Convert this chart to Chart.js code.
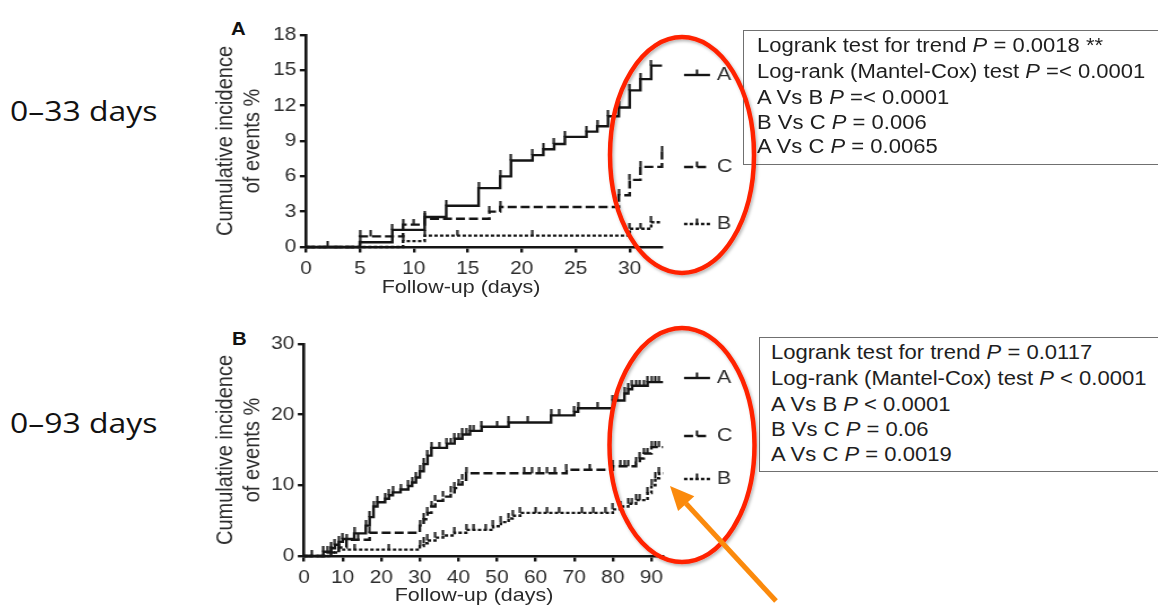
<!DOCTYPE html>
<html lang="en">
<head>
<meta charset="utf-8">
<title>Cumulative incidence of events</title>
<script src="https://cdn.jsdelivr.net/npm/chart.js@4.4.1/dist/chart.umd.min.js"></script>
<style>
  html, body { margin: 0; padding: 0; background: #fff; }
  body { position: relative; width: 1158px; height: 605px; overflow: hidden;
         font-family: "Liberation Sans", Arial, Helvetica, sans-serif; color: #222; }
  canvas.km { position: absolute; left: 196px; }
  .range { position: absolute; left: 10px; font-family: "Open Sans", "Noto Sans", sans-serif;
           font-size: 28px; line-height: 28px; color: #111; white-space: nowrap;
           transform: scaleX(1.14); transform-origin: 0 50%; }
  .tag { position: absolute; font-weight: bold; font-size: 18.5px; line-height: 19px; color: #111;
         transform: scaleX(1.1); transform-origin: 0 50%; }
  .xtitle { position: absolute; width: 300px; text-align: center; font-size: 19px; line-height: 22px;
            color: #2a2a2a; white-space: nowrap; transform: scaleX(1.13); transform-origin: 50% 50%; }
  .box { position: absolute; width: 440px; height: 135px; border: 1.3px solid #707070; box-sizing: border-box; }
  .stat { position: absolute; white-space: nowrap; font-size: 19.5px; line-height: 25px; color: #1e1e1e;
          transform: scaleX(1.13); transform-origin: 0 50%; }
  svg.marks { position: absolute; left: 0; top: 0; pointer-events: none; }
</style>
</head>
<body>

<div class="range" style="top:96px">0–33 days</div>
<div class="range" style="top:408px">0–93 days</div>

<div class="tag" style="left:231px; top:19px">A</div>
<div class="tag" style="left:232px; top:329px">B</div>

<canvas id="shortTerm" class="km" width="485" height="300" style="top:0; width:548px; height:300px"></canvas>
<canvas id="longTerm" class="km" width="485" height="295" style="top:310px; width:548px; height:295px"></canvas>

<div class="xtitle" style="left:311px; top:276px">Follow-up (days)</div>
<div class="xtitle" style="left:324px; top:584px">Follow-up (days)</div>

<div class="box" style="left:743px; top:30px"></div>
<div class="stat" style="left:757px; top:32.7px">Logrank test for trend <i>P</i> = 0.0018 **</div>
<div class="stat" style="left:757px; top:58.7px">Log-rank (Mantel-Cox) test <i>P</i> =&lt; 0.0001</div>
<div class="stat" style="left:757px; top:84.7px">A Vs B <i>P</i> =&lt; 0.0001</div>
<div class="stat" style="left:757px; top:109.7px">B Vs C <i>P</i> = 0.006</div>
<div class="stat" style="left:757px; top:133.7px">A Vs C <i>P</i> = 0.0065</div>

<div class="box" style="left:759px; top:337px"></div>
<div class="stat" style="left:771px; top:339.7px">Logrank test for trend <i>P</i> = 0.0117</div>
<div class="stat" style="left:771px; top:365.7px">Log-rank (Mantel-Cox) test <i>P</i> &lt; 0.0001</div>
<div class="stat" style="left:771px; top:391.7px">A Vs B <i>P</i> &lt; 0.0001</div>
<div class="stat" style="left:771px; top:416.7px">B Vs C <i>P</i> = 0.06</div>
<div class="stat" style="left:771px; top:441.7px">A Vs C <i>P</i> = 0.0019</div>

<svg class="marks" width="1158" height="605" viewBox="0 0 1158 605">
  <defs>
    <filter id="shade" x="-10%" y="-10%" width="130%" height="130%">
      <feDropShadow dx="1.5" dy="2" stdDeviation="1.4" flood-color="#000" flood-opacity="0.28"/>
    </filter>
  </defs>
  <ellipse cx="682" cy="155" rx="72" ry="118" fill="none" stroke="#ff2200" stroke-width="4.5" filter="url(#shade)"/>
  <ellipse cx="682" cy="445" rx="72.5" ry="117" fill="none" stroke="#ff2200" stroke-width="4.5" filter="url(#shade)"/>
  <line x1="776" y1="601" x2="686" y2="503.5" stroke="#fb8a0c" stroke-width="5"/>
  <polygon points="670,486 694.3,496.3 678.1,511.1" fill="#fb8a0c"/>
</svg>

<script>
const INK = '#151515';
const TEXT = '#2e2e2e';
const FONT = '"Liberation Sans", Arial, Helvetica, sans-serif';

// ---- Follow-up 0–33 days ----
const shortXTicks = [0, 5, 10, 15, 20, 25, 30];
const shortYTicks = [0, 3, 6, 9, 12, 15, 18];
const shortDaysA = [0, 5, 8, 11, 13, 16, 18, 19, 21, 22, 23, 24, 26, 27, 28, 29, 30, 31, 32, 33];
const shortPctA  = [0, 0.4, 1.45, 2.55, 3.5, 5.0, 6.0, 7.35, 7.8, 8.3, 8.75, 9.35, 9.8, 10.25, 11.1, 11.85, 13.3, 14.25, 15.4, 15.4];
const shortDaysB = [0, 9, 11, 30, 32, 33];
const shortPctB  = [0, 0.5, 0.97, 1.55, 2.1, 2.1];
const shortDaysC = [0, 5, 9, 11, 17, 18, 29, 30, 31, 33];
const shortPctC  = [0, 0.9, 1.9, 2.4, 3.0, 3.4, 4.4, 5.7, 6.8, 8.1];
const shortCensorA = [2];
const shortCensorB = [14, 21, 31];
const shortCensorC = [6, 10];

// ---- Follow-up 0–93 days ----
const longXTicks = [0, 10, 20, 30, 40, 50, 60, 70, 80, 90];
const longYTicks = [0, 10, 20, 30];
const longDaysA = [0, 5, 7, 8, 9, 10, 13, 16, 17, 18, 19, 21, 22, 23, 25, 27, 28, 29, 30, 31, 32, 33, 37, 39, 41, 43, 46, 53, 64, 70, 71, 80, 83, 84, 85, 89, 93];
const longPctA  = [0, 0.6, 1.1, 1.6, 2.0, 2.4, 3.2, 4.3, 5.5, 7.0, 7.6, 8.1, 8.6, 9.0, 9.4, 9.9, 10.4, 11.1, 12.0, 13.0, 14.2, 15.3, 15.9, 16.6, 17.2, 17.7, 18.3, 18.9, 19.9, 20.4, 20.9, 22.0, 23.0, 23.6, 24.1, 24.6, 24.6];
const longDaysB = [0, 7, 9, 30, 31, 32, 34, 36, 39, 42, 49, 51, 53, 54, 56, 80, 82, 84, 86, 89, 90, 91, 92, 93];
const longPctB  = [0, 0.5, 0.9, 1.4, 1.8, 2.2, 2.6, 2.9, 3.3, 3.7, 4.2, 4.8, 5.3, 5.7, 6.1, 6.6, 7.0, 7.4, 7.9, 8.9, 10.0, 11.0, 11.7, 11.7];
const longDaysC = [0, 6, 9, 11, 17, 30, 31, 32, 33, 34, 36, 38, 39, 40, 41, 42, 68, 80, 86, 87, 88, 90, 93];
const longPctC  = [0, 0.5, 1.2, 2.3, 3.3, 4.3, 5.2, 6.1, 7.0, 7.8, 8.4, 9.0, 9.6, 10.1, 10.8, 11.7, 12.2, 12.7, 13.2, 13.8, 14.5, 15.4, 15.4];
const longCensorA = [2, 35, 38, 40, 42, 44, 50, 58, 66, 76, 81, 86, 87, 88, 90, 91, 92];
const longCensorB = [13, 22, 44, 47, 60, 63, 66, 72, 75, 78, 85, 87];
const longCensorC = [14, 57, 59, 61, 63, 65, 74, 82, 83, 84, 89, 91, 92];

// Small upward tick used for censored observations
const censorMark = (() => {
  const c = document.createElement('canvas');
  c.width = 3; c.height = 12;
  const g = c.getContext('2d');
  g.fillStyle = INK;
  g.fillRect(0.5, 0, 2, 6);
  return c;
})();

// Value of a step function at time t
function valueAt(days, pct, t) {
  let v = 0;
  for (let i = 0; i < days.length; i++) if (days[i] <= t) v = pct[i];
  return v;
}

function stepSeries(label, days, pct, dash) {
  return {
    label,
    data: days.map((d, i) => ({ x: d, y: pct[i] })),
    showLine: true,
    stepped: 'before',
    borderColor: INK,
    borderWidth: 2.4,
    borderDash: dash,
    fill: false,
    clip: false,
    pointStyle: censorMark,
    pointRadius: (ctx) => {
      const i = ctx.dataIndex, d = ctx.dataset.data;
      if (i === 0) return 0;
      return d[i].y !== d[i - 1].y ? 3 : 0;
    }
  };
}

function censorSeries(label, days, pct, marks) {
  return {
    label: label + ' censored',
    data: marks.map(t => ({ x: t, y: valueAt(days, pct, t) })),
    showLine: false,
    clip: false,
    pointStyle: censorMark,
    pointRadius: 3
  };
}

// Curve key drawn beside the curve ends
const curveKey = {
  id: 'curveKey',
  afterDatasetsDraw(chart, args, opts) {
    const ctx = chart.ctx;
    opts.items.forEach(item => {
      const ds = chart.data.datasets.find(d => d.label === item.label);
      ctx.save();
      ctx.strokeStyle = ds.borderColor;
      ctx.lineWidth = ds.borderWidth;
      ctx.setLineDash(ds.borderDash || []);
      ctx.beginPath();
      ctx.moveTo(opts.x0, item.y);
      ctx.lineTo(opts.x1, item.y);
      ctx.stroke();
      ctx.setLineDash([]);
      ctx.lineWidth = 2;
      const xm = (opts.x0 + opts.x1) / 2;
      ctx.beginPath();
      ctx.moveTo(xm, item.y);
      ctx.lineTo(xm, item.y - 5.5);
      ctx.stroke();
      ctx.fillStyle = TEXT;
      ctx.font = '19px ' + FONT;
      ctx.textBaseline = 'middle';
      ctx.fillText(item.label, opts.textX, item.y);
      ctx.restore();
    });
  }
};

function axisStyle() {
  return {
    grid: { drawOnChartArea: false, drawTicks: true, tickLength: 5.5, color: INK, lineWidth: 2.4 },
    border: { display: true, color: INK, width: 2.6 }
  };
}

function kmChart(id, cfg) {
  const datasets = [
    stepSeries('A', cfg.daysA, cfg.pctA, []),
    stepSeries('C', cfg.daysC, cfg.pctC, [8, 3.5]),
    stepSeries('B', cfg.daysB, cfg.pctB, [3, 2]),
    censorSeries('A', cfg.daysA, cfg.pctA, cfg.censorA),
    censorSeries('C', cfg.daysC, cfg.pctC, cfg.censorC),
    censorSeries('B', cfg.daysB, cfg.pctB, cfg.censorB)
  ];
  return new Chart(document.getElementById(id), {
    type: 'scatter',
    data: { datasets },
    options: {
      responsive: false,
      animation: false,
      events: [],
      layout: { padding: cfg.padding },
      plugins: {
        legend: { display: false },
        tooltip: { enabled: false },
        curveKey: cfg.key
      },
      scales: {
        x: Object.assign(axisStyle(), {
          type: 'linear', min: 0, max: cfg.xMax,
          afterBuildTicks: s => { s.ticks = cfg.xTicks.map(v => ({ value: v })); },
          afterFit: s => { s.height = 40; },
          ticks: { font: { family: FONT, size: 18.5 }, color: TEXT, padding: 5, maxRotation: 0, autoSkip: false }
        }),
        y: Object.assign(axisStyle(), {
          type: 'linear', min: 0, max: cfg.yMax,
          afterBuildTicks: s => { s.ticks = cfg.yTicks.map(v => ({ value: v })); },
          afterFit: s => { s.width = cfg.yWidth; },
          ticks: { font: { family: FONT, size: 18.5 }, color: TEXT, padding: 3, autoSkip: false },
          title: {
            display: true,
            text: ['Cumulative incidence', 'of events %'],
            font: { family: FONT, size: 20, lineHeight: 1.2 },
            color: TEXT,
            padding: { top: 14, bottom: 0 }
          }
        })
      }
    },
    plugins: [curveKey]
  });
}

kmChart('shortTerm', {
  daysA: shortDaysA, pctA: shortPctA,
  daysB: shortDaysB, pctB: shortPctB,
  daysC: shortDaysC, pctC: shortPctC,
  censorA: shortCensorA, censorB: shortCensorB, censorC: shortCensorC,
  xTicks: shortXTicks, yTicks: shortYTicks, xMax: 33, yMax: 18,
  yWidth: 97.35,
  padding: { left: 0, right: 72.6, top: 35, bottom: 13 },
  key: { x0: 431.9, x1: 454.9, textX: 461, items: [
    { label: 'A', y: 75 }, { label: 'C', y: 167 }, { label: 'B', y: 224 }
  ] }
});

kmChart('longTerm', {
  daysA: longDaysA, pctA: longPctA,
  daysB: longDaysB, pctB: longPctB,
  daysC: longDaysC, pctC: longPctC,
  censorA: longCensorA, censorB: longCensorB, censorC: longCensorC,
  xTicks: longXTicks, yTicks: longYTicks, xMax: 93, yMax: 30,
  yWidth: 95.6,
  padding: { left: 0, right: 71.7, top: 34, bottom: 9 },
  key: { x0: 431.9, x1: 454.9, textX: 461, items: [
    { label: 'A', y: 68 }, { label: 'C', y: 126 }, { label: 'B', y: 169 }
  ] }
});
</script>
</body>
</html>
